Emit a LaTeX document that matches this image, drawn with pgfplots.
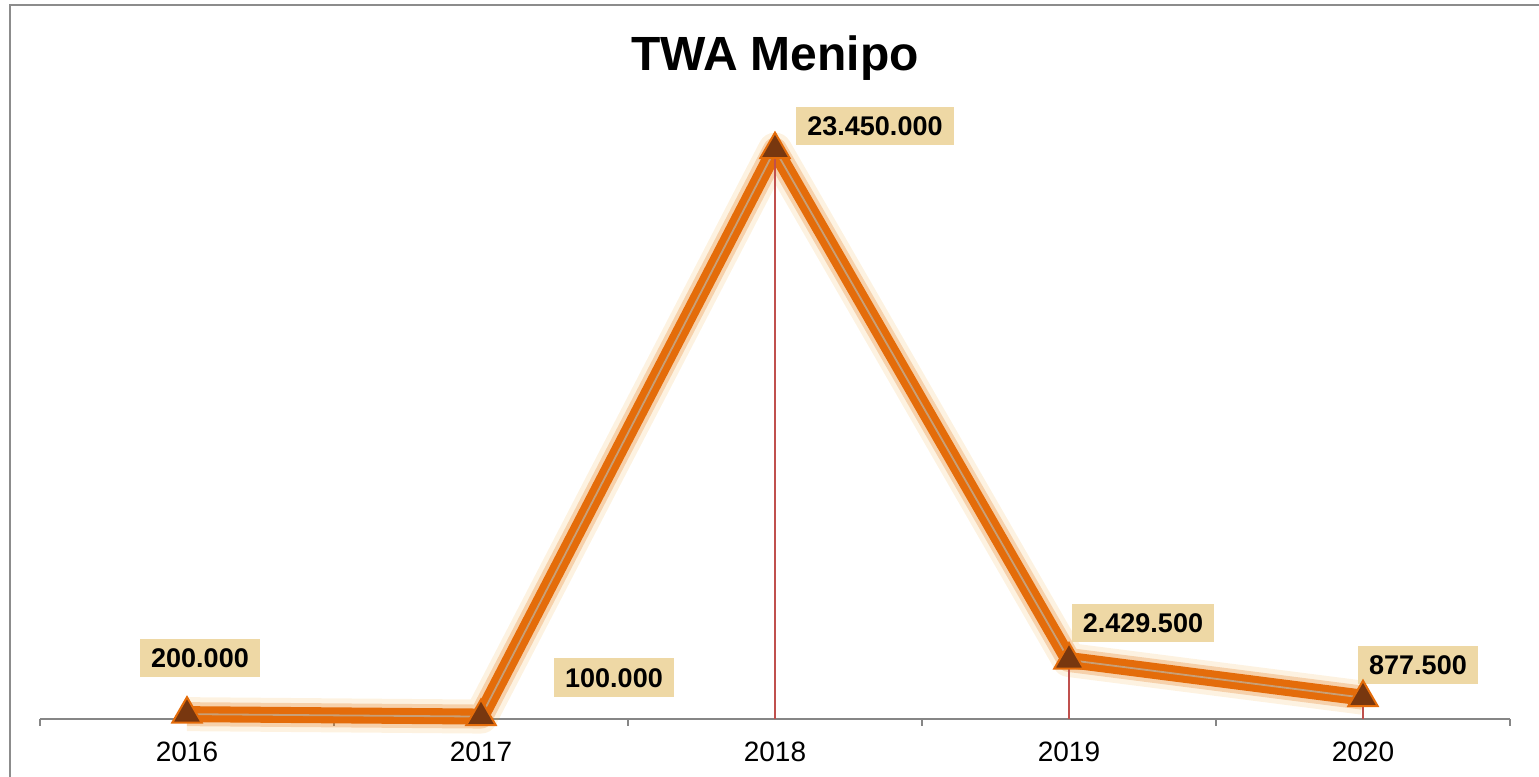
\documentclass[border=0pt]{standalone}
\usepackage{pgfplots}
\pgfplotsset{compat=1.18}
\usepackage{fontspec}
\setmainfont{Liberation Sans}
\definecolor{lineor}{RGB}{228,108,10}
\definecolor{innerln}{RGB}{200,160,120}
\definecolor{mk}{RGB}{120,55,15}
\definecolor{lblbg}{RGB}{238,216,165}
\definecolor{axgray}{RGB}{134,134,134}
\definecolor{framegray}{RGB}{140,140,140}
\definecolor{dropc}{RGB}{192,80,77}
\pgfplotstableread{
x y
1 200000
2 100000
3 23450000
4 2429500
5 877500
}\datatab
\begin{document}
\begin{tikzpicture}
\useasboundingbox (0,0) rectangle (769.5pt,388.5pt);
\draw[framegray, line width=1pt] (5pt,0) -- (5pt,386pt) -- (769.5pt,386pt);
\node[font=\fontsize{24}{29}\selectfont\bfseries] at (387.5pt,359.5pt) {TWA Menipo};
\begin{axis}[at={(20pt,29pt)}, anchor=south west, scale only axis,
  width=735pt, height=303.5pt,
  xmin=0.5, xmax=5.5, ymin=0, ymax=25000000,
  axis x line*=bottom, axis y line=none, ytick=\empty,
  x axis line style={axgray, line width=1pt, -},
  xtick={1,2,3,4,5}, xticklabels={2016,2017,2018,2019,2020},
  major tick length=0pt,
  minor xtick={0.5,1.5,2.5,3.5,4.5,5.5}, minor tick length=3.5pt,
  tick align=outside, minor tick style={axgray, line width=1pt},
  xticklabel style={font=\fontsize{14}{17}\selectfont, yshift=-8pt},
  clip=false]
\addplot[lineor!70!yellow, opacity=0.12, line width=17pt, line join=round] table[x=x,y=y] {\datatab};
\addplot[lineor, opacity=0.25, line width=12pt, line join=round] table[x=x,y=y] {\datatab};
\addplot[lineor, line width=8pt, line join=miter] table[x=x,y=y] {\datatab};
\addplot[innerln, line width=0.9pt, line join=miter] table[x=x,y=y] {\datatab};
\addplot[only marks, mark=triangle*, mark size=8.5pt, mark options={fill=mk, draw=lineor, line width=1pt}] table[x=x,y=y] {\datatab};
\addplot[ycomb, dropc, line width=0.6pt, mark=none] table[x=x,y=y] {\datatab};
\tikzset{lbl/.style={fill=lblbg, font=\fontsize{13.5}{16}\selectfont\bfseries, inner xsep=5.5pt, inner ysep=4.7pt, text height=9.7pt, text depth=0pt}}
\node[lbl, xshift=6.5pt, yshift=28pt] at (axis cs:1,200000) {200.000};
\node[lbl, xshift=66.5pt, yshift=19.5pt] at (axis cs:2,100000) {100.000};
\node[lbl, xshift=50pt, yshift=12pt] at (axis cs:3,23450000) {23.450.000};
\node[lbl, xshift=37pt, yshift=18.5pt] at (axis cs:4,2429500) {2.429.500};
\node[lbl, xshift=27.5pt, yshift=16.5pt] at (axis cs:5,877500) {877.500};
\end{axis}
\end{tikzpicture}
\end{document}
